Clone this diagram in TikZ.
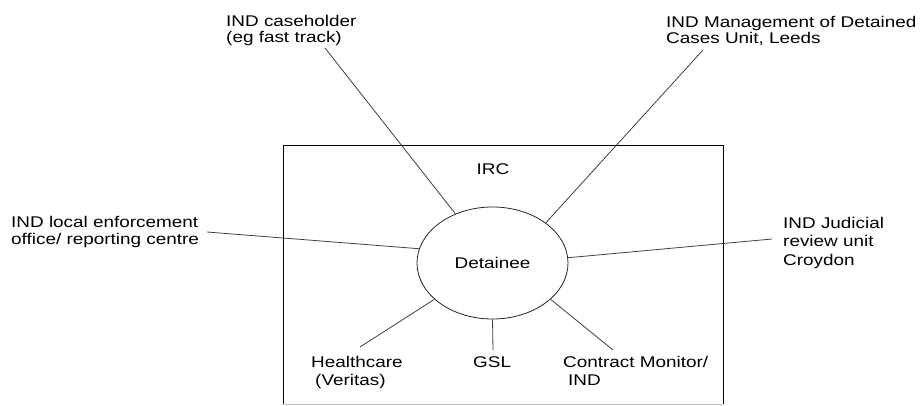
\documentclass[tikz,border=0pt]{standalone}
\usepackage{fontspec}
\setmainfont{Liberation Sans}[FakeStretch=1.22]
\usetikzlibrary{shapes.geometric}
\begin{document}
\begin{tikzpicture}[x=1pt,y=-1pt,
  lbl/.style={anchor=base west, inner sep=0pt, align=left, font=\fontsize{15.5}{17}\selectfont},
  link/.style={draw=black!75, line width=0.8pt},
  frame/.style={draw=black, line width=0.8pt},
]
\useasboundingbox (0,0) rectangle (923,405);
% IRC box
\coordinate (bl) at (283,404);
\coordinate (tl) at (283,145);
\coordinate (tr) at (723,145);
\coordinate (br) at (723,404);
\draw[frame] (bl) -- (tl) -- (tr) -- (br);
\draw[draw=black!25, line width=0.8pt] (bl) -- (br);
\node[anchor=base, inner sep=0pt, font=\fontsize{15.5}{17}\selectfont] (irc) at (493,174) {IRC};
% Detainee
\node[ellipse, draw=black!85, line width=0.8pt, minimum width=151pt, minimum height=112pt, inner sep=0pt, font=\fontsize{15.5}{17}\selectfont] (det) at (492.5,263) {Detainee};
% labels (base anchor = baseline of last line)
\node[lbl, font=\fontsize{15.5}{16}\selectfont] (ch) at (226,42) {IND caseholder\\(eg fast track)};
\node[lbl, font=\fontsize{15.5}{16}\selectfont] (mdc) at (666,43) {IND Management of Detained\\Cases Unit, Leeds};
\node[lbl] (le) at (11,244) {IND local enforcement\\office/ reporting centre};
\node[lbl, font=\fontsize{15.5}{18.5}\selectfont] (jr) at (783,265) {IND Judicial\\review unit\\Croydon};
\node[lbl, font=\fontsize{15.5}{18}\selectfont] (hc) at (311,385) {Healthcare\\\hspace*{4pt}(Veritas)};
\node[lbl] (gsl) at (473,367) {GSL};
\node[lbl, font=\fontsize{15.5}{18}\selectfont] (cm) at (563,385) {Contract Monitor/\\\hspace*{5pt}IND};
% connector ends
\coordinate (chE) at (325,48);
\coordinate (mdcE) at (703,50);
\coordinate (leE) at (207,232);
\coordinate (jrE) at (772,239);
\coordinate (hcE) at (360,347);
\coordinate (gslE) at (493,350);
\coordinate (cmE) at (613,350);
% connectors
\draw[link] (chE) -- (det.127.4);
\draw[link] (mdcE) -- (det.37);
\draw[link] (leE) -- (det.169.4);
\draw[link] (jrE) -- (det.4.5);
\draw[link] (hcE) -- (det.212.8);
\draw[link] (gslE) -- (det.270);
\draw[link] (cmE) -- (det.328.1);
\end{tikzpicture}
\end{document}
